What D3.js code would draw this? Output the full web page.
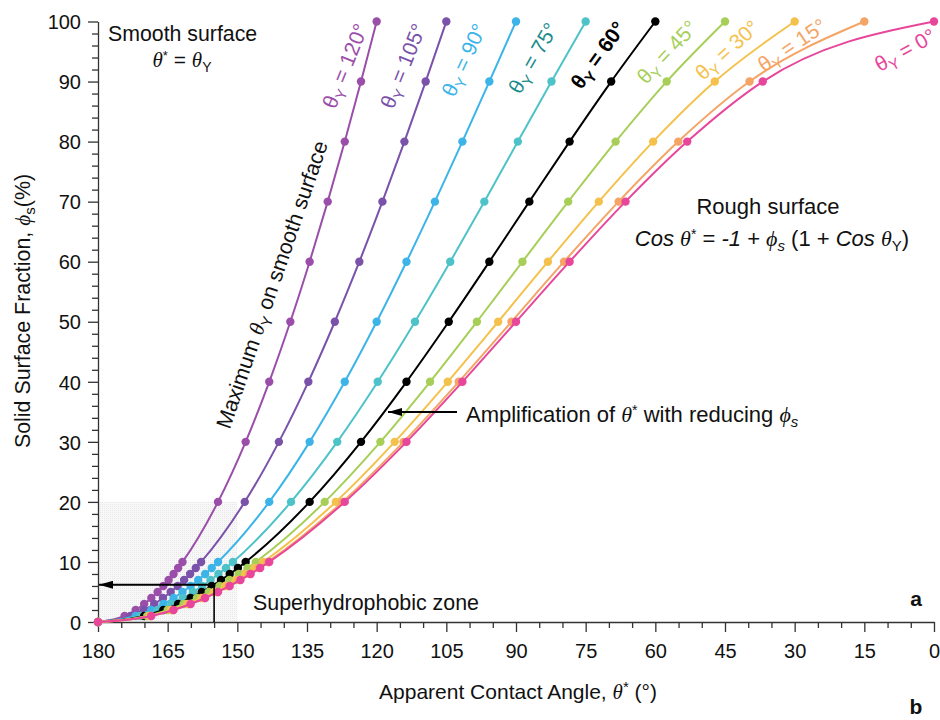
<!DOCTYPE html>
<html><head><meta charset="utf-8">
<script src="https://cdn.jsdelivr.net/npm/d3@7"></script>
<style>
body{margin:0;background:#fff;}
svg text{font-family:"Liberation Sans",Arial,sans-serif;fill:#111;}
.gr{font-family:"Liberation Serif","Times New Roman",serif;font-style:italic;}
</style></head><body>
<svg id="chart" width="940" height="720"></svg>
<script>
// ---- data ----
const phiValues = [0,1,2,3,4,5,6,7,8,9,10,20,30,40,50,60,70,80,90,100];
const thetaY = [120,105,90,75,60,45,30,15,0];
const theta120 = [180,174.27,171.89,170.06,168.52,167.16,165.93,164.80,163.73,162.75,161.81,154.16,148.21,143.13,138.59,134.43,130.54,126.87,123.37,120];
const theta105 = [180,173.02,170.12,167.89,166.01,164.35,162.85,161.46,160.17,158.95,157.80,148.40,141.05,134.71,129.01,123.73,118.76,114.02,109.45,105];
const theta90  = [180,171.89,168.52,165.93,163.73,161.81,160.05,158.43,156.93,155.51,154.16,143.13,134.43,126.87,120.00,113.58,107.46,101.54,95.74,90];
const theta75  = [180,170.90,167.12,164.20,161.74,159.56,157.59,155.77,154.07,152.46,150.94,138.44,128.49,119.77,111.75,104.16,96.82,89.60,82.36,75];
const theta60  = [180,170.06,165.93,162.75,160.05,157.67,155.51,153.51,151.64,149.88,148.21,134.43,123.37,113.58,104.48,95.74,87.13,78.46,69.51,60];
const theta45  = [180,169.40,164.99,161.58,158.69,156.16,153.84,151.70,149.70,147.82,146.03,131.19,119.20,108.50,98.42,88.61,78.76,68.55,57.56,45];
const theta30  = [180,168.91,164.30,160.74,157.72,155.05,152.63,150.39,148.29,146.31,144.43,128.81,116.12,104.69,93.84,83.13,72.17,60.47,47.20,30];
const theta15  = [180,168.62,163.88,160.22,157.13,154.38,151.89,149.58,147.43,145.39,143.46,127.36,114.22,102.33,90.98,79.66,67.90,55.06,39.71,15];
const theta0   = [180,168.52,163.73,160.05,156.93,154.16,151.64,149.32,147.14,145.08,143.13,126.87,113.58,101.54,90.00,78.46,66.42,53.13,36.87,0];
const xTickValues = [180,165,150,135,120,105,90,75,60,45,30,15,0];
const yTickValues = [0,10,20,30,40,50,60,70,80,90,100];
const zoneTheta = [180,150];
const zonePhi = [0,20];
const markerTheta = 155, markerPhi = 6.2;

// ---- styles ----
const seriesData = [theta120,theta105,theta90,theta75,theta60,theta45,theta30,theta15,theta0];
const lineColors = ["#9b4ea9","#7a52aa","#3cb4e8","#4dc3c9","#000000","#a7cf58","#f4c24c","#f4a565","#e8469b"];
const labelColors = ["#9b4ea9","#7a52aa","#3cb4e8","#1b8c8c","#000000","#a7cf58","#f4c24c","#f4a565","#e8469b"];
const labelPos = [[345,66,-68],[403,66,-68],[464,60,-65],[533,58,-60],[598,55,-54],[667,52,-47],[727,50,-42],[792,45,-34],[905,50,-29]];
const PHI = "\u03D5";

const svg = d3.select("#chart");
const x = d3.scaleLinear().domain([180,0]).range([98,934]);
const y = d3.scaleLinear().domain([0,100]).range([622,21.5]);

const defs = svg.append("defs");
defs.append("marker").attr("id","arr").attr("viewBox","0 0 14 8").attr("refX",14).attr("refY",4)
  .attr("markerWidth",14).attr("markerHeight",8).attr("markerUnits","userSpaceOnUse").attr("orient","auto")
  .append("path").attr("d","M0,0L14,4L0,8Z").attr("fill","#000");
const pat = defs.append("pattern").attr("id","dots").attr("width",2).attr("height",2).attr("patternUnits","userSpaceOnUse");
pat.append("rect").attr("width",2).attr("height",2).attr("fill","#f8f8f8");
pat.append("rect").attr("width",1).attr("height",1).attr("fill","#e8e8e8");

// shaded superhydrophobic zone
svg.append("rect").attr("x",x(zoneTheta[0])).attr("y",y(zonePhi[1]))
  .attr("width",x(zoneTheta[1])-x(zoneTheta[0])).attr("height",y(zonePhi[0])-y(zonePhi[1]))
  .attr("fill","url(#dots)");

// axes
const axisColor = "#333";
const gx = svg.append("g").attr("transform",`translate(0,${y(0)})`);
gx.call(d3.axisBottom(x).tickValues(d3.range(180,-1,-5).filter(v=>v%15!==0)).tickSize(6).tickSizeOuter(0).tickFormat(""));
gx.call(g=>g.select(".domain").remove());
const gx2 = svg.append("g").attr("transform",`translate(0,${y(0)})`)
  .call(d3.axisBottom(x).tickValues(xTickValues).tickSize(10).tickSizeOuter(0).tickPadding(12).tickFormat(d3.format("d")));
const gy = svg.append("g").attr("transform",`translate(${x(180)},0)`);
gy.call(d3.axisLeft(y).tickValues(d3.range(0,101,2).filter(v=>v%10!==0)).tickSize(6).tickSizeOuter(0).tickFormat(""));
gy.call(g=>g.select(".domain").remove());
const gy2 = svg.append("g").attr("transform",`translate(${x(180)},0)`)
  .call(d3.axisLeft(y).tickValues(yTickValues).tickSize(10).tickSizeOuter(0).tickPadding(7).tickFormat(d3.format("d")));
svg.selectAll(".domain, .tick line").attr("stroke",axisColor).attr("stroke-width",1.3);
svg.selectAll(".tick text").attr("font-size",20).attr("fill","#111").style("font-family",'"Liberation Sans",Arial,sans-serif');
gy2.selectAll(".tick text").attr("dy","0.36em");

// series
const line = d3.line().x(d=>x(d.t)).y(d=>y(d.p)).curve(d3.curveMonotoneX);
seriesData.forEach((arr,i)=>{
  const pts = arr.map((t,j)=>({t:t,p:phiValues[j]}));
  svg.append("path").datum(pts).attr("d",line).attr("fill","none")
    .attr("stroke",lineColors[i]).attr("stroke-width",2);
  svg.append("g").selectAll("circle").data(pts).join("circle")
    .attr("cx",d=>x(d.t)).attr("cy",d=>y(d.p)).attr("r",4.2).attr("fill",lineColors[i]);
});

// series labels
thetaY.forEach((ty,i)=>{
  const [cx,cy,rot] = labelPos[i];
  const t = svg.append("text").attr("transform",`translate(${cx},${cy}) rotate(${rot})`)
    .attr("text-anchor","middle").attr("dy","0.35em").attr("font-size",21)
    .style("fill",labelColors[i]).attr("font-weight", ty===60?"bold":"normal");
  t.append("tspan").text("θ");
  t.append("tspan").attr("dy",5).attr("font-size",15).text("Y");
  t.append("tspan").attr("dy",-5).text(" = "+ty+"°");
});

// arrows
svg.append("path").attr("d",`M${x(markerTheta)},${y(0)}V${y(markerPhi)}`).attr("stroke","#000").attr("stroke-width",1.6);
svg.append("line").attr("x1",x(markerTheta)).attr("y1",y(markerPhi)).attr("x2",x(180)+1).attr("y2",y(markerPhi))
  .attr("stroke","#000").attr("stroke-width",2).attr("marker-end","url(#arr)");
svg.append("line").attr("x1",457).attr("y1",412).attr("x2",388).attr("y2",412)
  .attr("stroke","#000").attr("stroke-width",2).attr("marker-end","url(#arr)");

// annotations
function addText(px,py,size,anchor){
  return svg.append("text").attr("x",px).attr("y",py).attr("font-size",size).attr("text-anchor",anchor||"start");
}
addText(108,41,21.3).text("Smooth surface");
let t = addText(182,67,21,"middle");
t.append("tspan").attr("class","gr").text("θ");
t.append("tspan").attr("dy",-7).attr("font-size",13).text("*");
t.append("tspan").attr("dy",7).text("  = ");
t.append("tspan").attr("class","gr").text("θ");
t.append("tspan").attr("dy",5).attr("font-size",14).text("Y");

addText(768,214,22,"middle").text("Rough surface");
t = addText(772,246,22,"middle");
t.append("tspan").attr("font-style","italic").text("Cos  ");
t.append("tspan").attr("class","gr").text("θ");
t.append("tspan").attr("dy",-7).attr("font-size",14).text("*");
t.append("tspan").attr("dy",7).text("  = ");
t.append("tspan").attr("font-style","italic").text("-1");
t.append("tspan").text(" + ");
t.append("tspan").attr("class","gr").text(PHI);
t.append("tspan").attr("dy",5).attr("font-size",15).attr("font-style","italic").text("s");
t.append("tspan").attr("dy",-5).text(" (1 + ");
t.append("tspan").attr("font-style","italic").text("Cos ");
t.append("tspan").attr("class","gr").text("θ");
t.append("tspan").attr("dy",5).attr("font-size",15).text("Y");
t.append("tspan").attr("dy",-5).text(")");

t = addText(466,422,22);
t.append("tspan").text("Amplification of ");
t.append("tspan").attr("class","gr").text("θ");
t.append("tspan").attr("dy",-7).attr("font-size",14).text("*");
t.append("tspan").attr("dy",7).text("  with reducing ");
t.append("tspan").attr("class","gr").text(PHI);
t.append("tspan").attr("dy",5).attr("font-size",15).attr("font-style","italic").text("s");

addText(253,610,21.4).text("Superhydrophobic zone");

t = svg.append("text").attr("transform","translate(279,287) rotate(-71)").attr("text-anchor","middle").attr("font-size",21.5);
t.append("tspan").text("Maximum ");
t.append("tspan").attr("class","gr").text("θ");
t.append("tspan").attr("dy",5).attr("font-size",15).text("Y");
t.append("tspan").attr("dy",-5).text(" on smooth surface");

addText(916,606,21,"middle").attr("font-weight","bold").text("a");
addText(916,714,21,"middle").attr("font-weight","bold").text("b");

// axis titles
t = addText(518,699,21,"middle");
t.append("tspan").text("Apparent Contact Angle, ");
t.append("tspan").attr("class","gr").text("θ");
t.append("tspan").attr("dy",-7).attr("font-size",15).text("*");
t.append("tspan").attr("dy",7).text(" (°)");

t = svg.append("text").attr("transform","translate(30,311) rotate(-90)").attr("text-anchor","middle").attr("font-size",21.4);
t.append("tspan").text("Solid Surface Fraction, ");
t.append("tspan").attr("class","gr").text(PHI);
t.append("tspan").attr("dy",5).attr("font-size",15).text("s");
t.append("tspan").attr("dy",-5).text("(%)");
</script>
</body></html>
